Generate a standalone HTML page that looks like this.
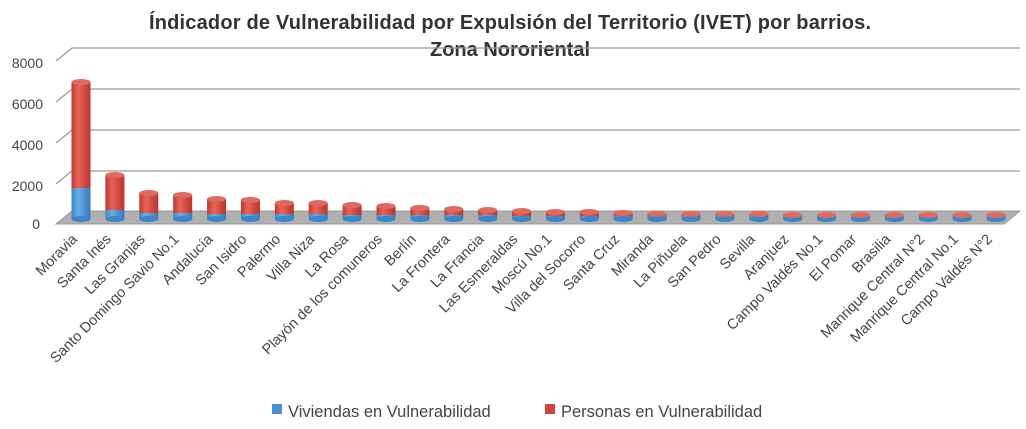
<!DOCTYPE html>
<html><head><meta charset="utf-8"><style>
html,body{margin:0;padding:0;background:#fff;}
svg{display:block;font-family:"Liberation Sans",sans-serif;}
</style></head><body>
<svg id="c" width="1026" height="429" viewBox="0 0 1026 429" xmlns="http://www.w3.org/2000/svg">
<defs>
<linearGradient id="r" x1="0" x2="1"><stop offset="0" stop-color="#c0392f"/><stop offset="0.35" stop-color="#e8635a"/><stop offset="1" stop-color="#b8342c"/></linearGradient>
<linearGradient id="b" x1="0" x2="1"><stop offset="0" stop-color="#3a86c8"/><stop offset="0.35" stop-color="#6ab0e8"/><stop offset="1" stop-color="#3578b8"/></linearGradient>
</defs>
<text x="510" y="29" text-anchor="middle" font-size="20" font-weight="bold" fill="#333" textLength="722">Índicador de Vulnerabilidad por Expulsión del Territorio (IVET) por barrios.</text>
<text x="510" y="56" text-anchor="middle" font-size="20" font-weight="bold" fill="#333">Zona Nororiental</text>
<g stroke="#999" stroke-width="1.2" fill="none">
<path d="M56,61 L72,48 L1020,48"/>
<path d="M56,102 L72,89 L1020,89"/>
<path d="M56,143 L72,130 L1020,130"/>
<path d="M56,184 L72,171 L1020,171"/>
</g>
<polygon points="56,224 72,211 1020,211 1004,224" fill="#b0b0b0" stroke="#999"/>
<g font-size="14" fill="#444" text-anchor="end">
<text x="43" y="68">8000</text><text x="43" y="109">6000</text><text x="43" y="150">4000</text><text x="43" y="191">2000</text><text x="40" y="229">0</text>
</g>
<g id="bars"></g>
<g id="labels" font-size="14.5" fill="#444" text-anchor="end"></g>
<rect x="272" y="404" width="10" height="10" fill="#4a90d0"/>
<text x="288" y="417" font-size="16.5" fill="#444">Viviendas en Vulnerabilidad</text>
<rect x="545" y="404" width="10" height="10" fill="#d0463c"/>
<text x="561" y="417" font-size="16.5" fill="#444">Personas en Vulnerabilidad</text>
</svg>
<script>
var names=["Moravia","Santa Inés","Las Granjas","Santo Domingo Savio No.1","Andalucía","San Isidro","Palermo","Villa Niza","La Rosa","Playón de los comuneros","Berlín","La Frontera","La Francia","Las Esmeraldas","Moscú No.1","Villa del Socorro","Santa Cruz","Miranda","La Piñuela","San Pedro","Sevilla","Aranjuez","Campo Valdés No.1","El Pomar","Brasilia","Manrique Central N°2","Manrique Central No.1","Campo Valdés N°2"];
var tops=[82,175,193,195,199,200,203,203,205,206,208,209,210,211,212,212,213,214,214,214,214,215,215,215,215,215,215,215];
var blues=[188,210,213,213,214,214,214,214,215,215,215,215,215,216,216,216,216,216,216,216,216,216,216,216,216,216,216,216];
var bottom=219,ns="http://www.w3.org/2000/svg",g=document.getElementById("bars"),L=document.getElementById("labels");
function el(t,a,p){var e=document.createElementNS(ns,t);for(var k in a)e.setAttribute(k,a[k]);p.appendChild(e);return e;}
var step=(996-81)/27;
for(var i=0;i<names.length;i++){
 var cx=81+i*step,w=19,x=cx-w/2,t=tops[i],bl=blues[i];
 el("rect",{x:x,y:bl,width:w,height:bottom-bl,fill:"url(#b)"},g);
 el("ellipse",{cx:cx,cy:bottom,rx:w/2,ry:3,fill:"#3a86c8"},g);
 el("rect",{x:x,y:t,width:w,height:bl-t,fill:"url(#r)"},g);
 el("ellipse",{cx:cx,cy:t,rx:w/2,ry:3,fill:"#e06a60"},g);
 var ax=cx-3,ay=240;
 var tx=el("text",{x:ax,y:ay,transform:"rotate(-45 "+ax+" "+ay+")"},L);tx.textContent=names[i];
}
</script>
</body></html>
